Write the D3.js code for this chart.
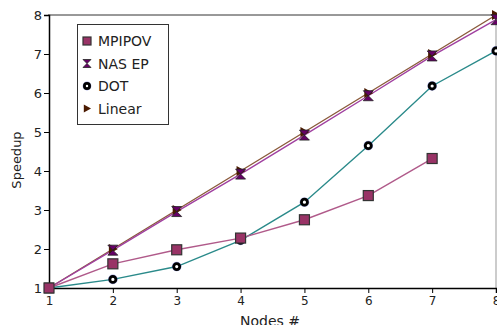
<!DOCTYPE html>
<html>
<head>
<meta charset="utf-8">
<script src="https://cdn.jsdelivr.net/npm/d3@7"></script>
<style>
  body { margin: 0; background: #fff; }
  text { font-family: "DejaVu Sans", sans-serif; }
</style>
</head>
<body>
<svg id="chart" width="497" height="325"></svg>
<script>
const nodes = [1, 2, 3, 4, 5, 6, 7, 8];
const mpipov = [1.0, 1.62, 1.98, 2.28, 2.75, 3.37, 4.32];
const nasEp = [1.0, 1.97, 2.96, 3.92, 4.92, 5.93, 6.95, 7.88];
const dot = [1.0, 1.22, 1.55, 2.22, 3.2, 4.65, 6.18, 7.08];
const linear = [1, 2, 3, 4, 5, 6, 7, 8];
const yTicks = [1, 2, 3, 4, 5, 6, 7, 8];

const svg = d3.select("#chart");
const x = d3.scaleLinear().domain([1, 8]).range([49, 496]);
const y = d3.scaleLinear().domain([1, 8]).range([288, 15]);

// frame: top black line, right gray line
svg.append("line").attr("x1", 48).attr("x2", 496).attr("y1", 15).attr("y2", 15)
  .attr("stroke", "#333").attr("stroke-width", 1);
svg.append("line").attr("x1", 496).attr("x2", 496).attr("y1", 15).attr("y2", 288)
  .attr("stroke", "#999").attr("stroke-width", 1);

const xAxis = svg.append("g").attr("transform", "translate(0,288)")
  .call(d3.axisBottom(x).tickValues(nodes).tickFormat(d3.format("d")).tickSizeOuter(0).tickSize(5));
const yAxis = svg.append("g").attr("transform", "translate(49,0)")
  .call(d3.axisLeft(y).tickValues(yTicks).tickFormat(d3.format("d")).tickSizeOuter(0).tickSize(5));
[xAxis, yAxis].forEach(g => {
  g.select(".domain").attr("stroke", "#000").attr("stroke-width", 1.5);
  g.selectAll(".tick line").attr("stroke", "#000");
  g.selectAll(".tick text").attr("font-size", 12).attr("fill", "#222")
    .attr("font-family", "DejaVu Sans, sans-serif");
});
yAxis.selectAll(".tick text").attr("font-size", 13).attr("x", -7);

svg.append("text").attr("x", 270).attr("y", 326).attr("text-anchor", "middle")
  .attr("font-size", 14).attr("fill", "#222").text("Nodes #");
svg.append("text").attr("transform", "translate(21,160) rotate(-90)").attr("text-anchor", "middle")
  .attr("font-size", 13).attr("fill", "#222").text("Speedup");

const line = d3.line().x((d, i) => x(nodes[i])).y(d => y(d));

const series = [
  { name: "Linear", data: linear, stroke: "#8a5a3a", fill: "#4a1a00", shape: "tri" },
  { name: "NAS EP", data: nasEp, stroke: "#a040a0", fill: "#660066", shape: "hour" },
  { name: "DOT", data: dot, stroke: "#2a8a8a", fill: "#000", shape: "ring" },
  { name: "MPIPOV", data: mpipov, stroke: "#b05a8a", fill: "#993366", shape: "sq" }
];

function marker(g, shape, fill, s) {
  if (shape === "sq") {
    g.append("rect").attr("x", -s).attr("y", -s).attr("width", 2 * s).attr("height", 2 * s)
      .attr("fill", fill).attr("stroke", "#333").attr("stroke-width", 1.2);
  } else if (shape === "ring") {
    g.append("circle").attr("r", s + 1.2).attr("fill", "#3040c0").attr("opacity", 0.45);
    g.append("circle").attr("r", s - 0.6).attr("fill", "#fff").attr("stroke", "#000").attr("stroke-width", 2.8);
  } else if (shape === "tri") {
    g.append("path").attr("d", `M${-s * 0.8},${-s} L${s},0 L${-s * 0.8},${s} Z`).attr("fill", fill);
  } else if (shape === "hour") {
    g.append("path").attr("d", `M${-s},${-s} L${s},${-s} L0,0 L${s},${s} L${-s},${s} L0,0 Z`)
      .attr("fill", fill).attr("stroke", "#222").attr("stroke-width", 0.8);
  }
}

series.forEach(s => {
  svg.append("path").datum(s.data).attr("d", line).attr("fill", "none")
    .attr("stroke", s.stroke).attr("stroke-width", 1.4);
});
series.forEach(s => {
  s.data.forEach((v, i) => {
    const g = svg.append("g").attr("transform", `translate(${x(nodes[i])},${y(v)})`);
    marker(g, s.shape, s.fill, s.shape === "ring" ? 3.6 : 5);
  });
});

// legend
const legendItems = ["MPIPOV", "NAS EP", "DOT", "Linear"];
const legendShapes = { "MPIPOV": ["sq", "#993366"], "NAS EP": ["hour", "#660066"], "DOT": ["ring", "#000"], "Linear": ["tri", "#4a1a00"] };
svg.append("rect").attr("x", 77.5).attr("y", 24.5).attr("width", 91).attr("height", 100)
  .attr("fill", "#fff").attr("stroke", "#333").attr("stroke-width", 1);
legendItems.forEach((name, i) => {
  const cy = 41 + i * 22.5;
  const g = svg.append("g").attr("transform", `translate(87,${cy})`);
  marker(g, legendShapes[name][0], legendShapes[name][1], name === "DOT" ? 3.2 : 4);
  svg.append("text").attr("x", 98).attr("y", cy + 5).attr("font-size", 14)
    .attr("font-family", "Liberation Sans, Arial, sans-serif").attr("fill", "#222").text(name);
});
</script>
</body>
</html>
